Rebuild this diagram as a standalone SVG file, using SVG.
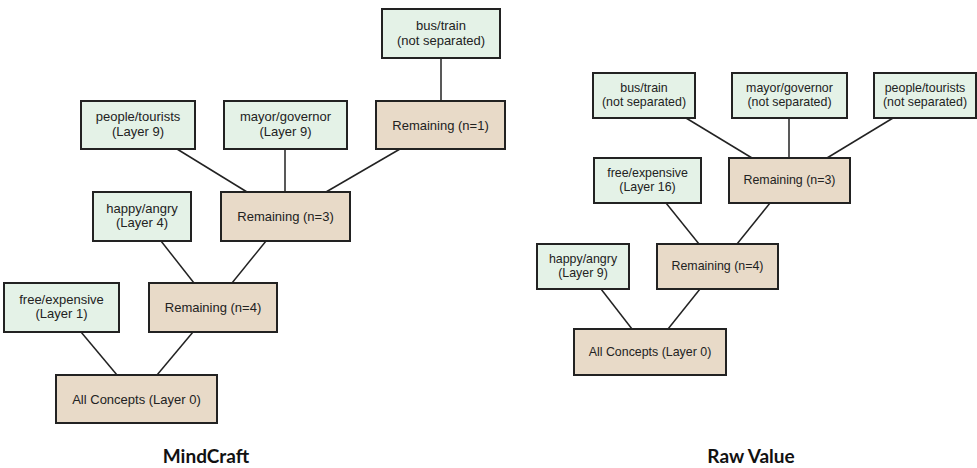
<svg xmlns="http://www.w3.org/2000/svg" width="977" height="468" viewBox="0 0 977 468">
  <style>
    .leaf rect { fill: #e4f2e7; stroke: #222; stroke-width: 2; }
    .rest rect { fill: #e8dac8; stroke: #222; stroke-width: 2; }
    .l text { font-family: "Liberation Sans", Arial, sans-serif; font-size: 13px; fill: #222; text-anchor: middle; }
    .r text { font-family: "Liberation Sans", Arial, sans-serif; font-size: 12.4px; fill: #222; text-anchor: middle; }
    #edges line { stroke: #222; stroke-width: 1.5; }
    .title { font-family: Lato, "Open Sans", sans-serif; font-weight: bold; font-size: 19px; fill: #111; text-anchor: middle; }
  </style>

  <!-- connectors -->
  <g id="edges">
    <!-- left tree -->
    <line x1="441" y1="58" x2="441" y2="101"/>
    <line x1="177" y1="149" x2="247" y2="192"/>
    <line x1="285" y1="149" x2="285" y2="192"/>
    <line x1="400" y1="149" x2="326" y2="192"/>
    <line x1="161" y1="241" x2="194" y2="283"/>
    <line x1="266" y1="241" x2="232" y2="283"/>
    <line x1="81" y1="332" x2="117" y2="375"/>
    <line x1="193" y1="332" x2="157" y2="375"/>
    <!-- right tree -->
    <line x1="686" y1="118" x2="752" y2="158"/>
    <line x1="789" y1="118" x2="789" y2="158"/>
    <line x1="893" y1="118" x2="827" y2="158"/>
    <line x1="666" y1="203" x2="699" y2="244"/>
    <line x1="770" y1="203" x2="737" y2="244"/>
    <line x1="601" y1="289" x2="632" y2="329"/>
    <line x1="700" y1="289" x2="668" y2="329"/>
  </g>

  <!-- left tree nodes -->
  <g class="l">
    <g id="mc-bus" class="leaf">
      <rect x="382" y="9" width="118" height="49"/>
      <text x="441" y="30">bus/train</text>
      <text x="441" y="44.5">(not separated)</text>
    </g>
    <g id="mc-rem1" class="rest">
      <rect x="376" y="101" width="129" height="48"/>
      <text x="440.5" y="129.5">Remaining (n=1)</text>
    </g>
    <g id="mc-people" class="leaf">
      <rect x="81" y="101" width="114" height="48"/>
      <text x="138" y="121">people/tourists</text>
      <text x="138" y="135.5">(Layer 9)</text>
    </g>
    <g id="mc-mayor" class="leaf">
      <rect x="224" y="101" width="123" height="48"/>
      <text x="285.5" y="121">mayor/governor</text>
      <text x="285.5" y="135.5">(Layer 9)</text>
    </g>
    <g id="mc-happy" class="leaf">
      <rect x="93" y="192" width="98" height="49"/>
      <text x="142" y="212.5">happy/angry</text>
      <text x="142" y="227">(Layer 4)</text>
    </g>
    <g id="mc-rem3" class="rest">
      <rect x="221" y="192" width="129" height="49"/>
      <text x="285.5" y="220.5">Remaining (n=3)</text>
    </g>
    <g id="mc-free" class="leaf">
      <rect x="4" y="283" width="115" height="49"/>
      <text x="61.5" y="303.5">free/expensive</text>
      <text x="61.5" y="318">(Layer 1)</text>
    </g>
    <g id="mc-rem4" class="rest">
      <rect x="149" y="283" width="128" height="49"/>
      <text x="213" y="311.5">Remaining (n=4)</text>
    </g>
    <g id="mc-all" class="rest">
      <rect x="56" y="375" width="161" height="48"/>
      <text x="136.5" y="403.5">All Concepts (Layer 0)</text>
    </g>
  </g>

  <!-- right tree nodes -->
  <g class="r">
    <g id="rv-bus" class="leaf">
      <rect x="593" y="73" width="102" height="45"/>
      <text x="644" y="92">bus/train</text>
      <text x="644" y="105.5">(not separated)</text>
    </g>
    <g id="rv-mayor" class="leaf">
      <rect x="732" y="73" width="115" height="45"/>
      <text x="789.5" y="92">mayor/governor</text>
      <text x="789.5" y="105.5">(not separated)</text>
    </g>
    <g id="rv-people" class="leaf">
      <rect x="874" y="73" width="102" height="45"/>
      <text x="925" y="92">people/tourists</text>
      <text x="925" y="105.5">(not separated)</text>
    </g>
    <g id="rv-free" class="leaf">
      <rect x="594" y="158" width="107" height="45"/>
      <text x="647.5" y="177">free/expensive</text>
      <text x="647.5" y="190.5">(Layer 16)</text>
    </g>
    <g id="rv-rem3" class="rest">
      <rect x="729" y="158" width="121" height="45"/>
      <text x="789.5" y="184">Remaining (n=3)</text>
    </g>
    <g id="rv-happy" class="leaf">
      <rect x="537" y="244" width="92" height="45"/>
      <text x="583" y="263">happy/angry</text>
      <text x="583" y="276.5">(Layer 9)</text>
    </g>
    <g id="rv-rem4" class="rest">
      <rect x="657" y="244" width="121" height="45"/>
      <text x="717.5" y="270">Remaining (n=4)</text>
    </g>
    <g id="rv-all" class="rest">
      <rect x="574" y="329" width="152" height="46"/>
      <text x="650" y="355.5">All Concepts (Layer 0)</text>
    </g>
  </g>

  <!-- panel titles -->
  <text class="title" x="206" y="463">MindCraft</text>
  <text class="title" x="751" y="463">Raw Value</text>
</svg>
